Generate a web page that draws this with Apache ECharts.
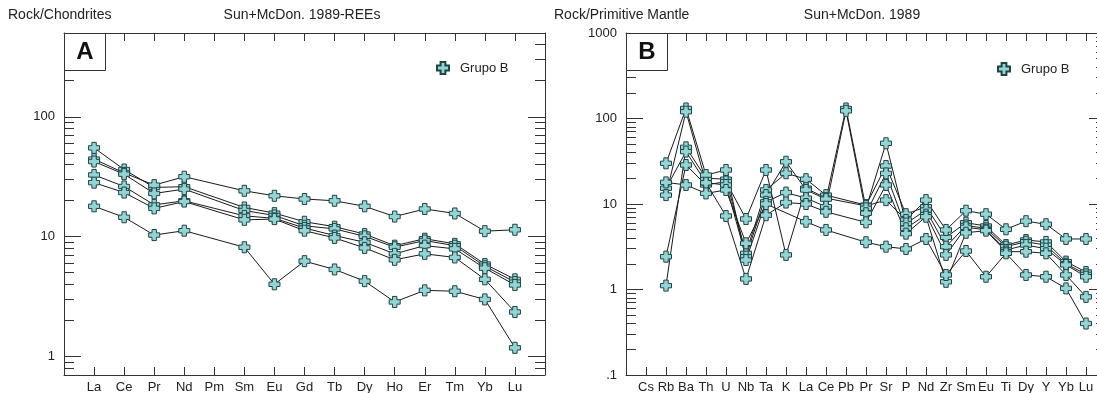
<!DOCTYPE html>
<html>
<head>
<meta charset="utf-8">
<script src="https://cdn.jsdelivr.net/npm/echarts@6/dist/echarts.min.js"></script>
<style>
html,body{margin:0;padding:0;background:#fff;}
#c{width:1097px;height:393px;}
</style>
</head>
<body>
<div id="c"></div>
<script>
// ---------- DATA ----------
const reeLabels = ['La','Ce','Pr','Nd','Pm','Sm','Eu','Gd','Tb','Dy','Ho','Er','Tm','Yb','Lu'];
const spiderLabels = ['Cs','Rb','Ba','Th','U','Nb','Ta','K','La','Ce','Pb','Pr','Sr','P','Nd','Zr','Sm','Eu','Ti','Dy','Y','Yb','Lu'];

// Panel A: Rock/Chondrites (REE)
const reeS1 = [55.0, 36.3, 25.7, 26.1, null, 17.5, 15.7, 13.3, 12.1, 10.5, 8.4, 9.6, 8.7, 5.9, 4.4];
const reeS2 = [44.3, 34.0, 26.9, 31.6, null, 24.1, 21.9, 20.6, 19.9, 17.9, 14.7, 17.0, 15.6, 11.1, 11.4];
const reeS3 = [42.3, 33.2, 22.9, 24.9, null, 16.5, 15.0, 12.3, 11.6, 10.05, 8.15, 9.27, 8.4, 5.66, 4.17];
const reeS4 = [32.7, 26.2, 18.4, 19.9, null, 14.9, 14.2, 11.8, 10.2, 8.97, 7.18, 8.41, 7.9, 5.45, 3.95];
const reeS5 = [28.2, 23.3, 17.2, 19.6, null, 13.8, 14.0, 11.2, 9.75, 8.05, 6.4, 7.18, 6.7, 4.40, 2.35];
const reeS6 = [17.9, 14.5, 10.3, 11.2, null, 8.15, 4.0, 6.24, 5.32, 4.25, 2.85, 3.56, 3.5, 2.99, 1.18];

// Panel B: Rock/Primitive Mantle (spider)
const spS1 = [null, 1.11, 46, 20.0, 19.5, 2.65, 14.6, 22.9, 19.5, 12.7, null, 9.7, 27.8, 7.6, 9.3, 4.08, 6.04, 5.53, 3.31, 3.79, 3.6, 2.12, 1.6];
const spS2 = [null, 2.42, 28.6, 16.7, 18.3, 6.68, 25.0, 2.54, 15.3, 11.7, null, 9.5, 11.1, 6.5, 11.1, 4.97, 8.35, 7.6, 5.06, 6.3, 5.8, 3.9, 3.9];
const spS3 = [null, 15.3, 41, 17.7, 16.7, 2.42, 12.7, 31.2, 14.6, 11.4, 131, 8.9, 51.3, 5.9, 8.5, 3.17, 5.6, 5.2, 3.17, 3.62, 3.3, 2.0, 1.5];
const spS4 = [null, 29.9, 131, 21.8, 25.0, 2.21, 10.6, 13.6, 11.7, 9.3, 123, 7.8, 22.8, 5.2, 7.5, 2.54, 5.33, 5.0, 2.9, 3.31, 3.0, 1.94, 1.41];
const spS5 = [null, 12.7, 120, 17.7, 7.24, 1.33, 7.4, 10.4, 10.0, 8.1, null, 6.1, 16.7, 4.5, 7.1, 1.23, 4.61, 4.88, 2.77, 2.77, 2.65, 1.48, 0.82];
const spS6 = [null, 17.9, 16.7, 13.3, 14.6, 3.47, 10.0, null, 6.2, 4.97, null, 3.57, 3.17, 2.98, 3.9, 1.48, 2.82, 1.41, 2.65, 1.48, 1.41, 1.03, 0.40];

const majorTicksA = [1, 10, 100];
const majorTicksB = [0.1, 1, 10, 100, 1000];
const seriesName = 'Grupo B';

// ---------- CHART ----------
const FONT = "'Liberation Sans', Arial, sans-serif";
const TXT = '#222';
const AX = '#333';
const plusPath = 'path://M3,0 L7,0 L7,3 L10,3 L10,7 L7,7 L7,10 L3,10 L3,7 L0,7 L0,3 L3,3 Z';

function minorTicks(lo, hi) {
  const out = [];
  for (let e = -2; e <= 3; e++) {
    for (let m = 2; m <= 9; m++) {
      const v = +(m * Math.pow(10, e)).toPrecision(6);
      if (v > lo && v < hi) out.push(v);
    }
  }
  return out;
}
const minorA = minorTicks(0.7, 500);
const minorB = minorTicks(0.1, 1000);

const padA = [' '].concat(reeLabels, ['  ']);
const padB = [' '].concat(spiderLabels, ['  ']);
const padData = arr => [null].concat(arr, [null]);

function xAxes(gridIndex, cats) {
  const n = cats.length;
  const tickInt = (i) => i > 0 && i < n - 1;
  return [
    { type: 'category', gridIndex, data: cats, boundaryGap: false, position: 'bottom',
      axisLine: { show: true, lineStyle: { color: AX, width: 1 } },
      axisTick: { show: true, inside: true, length: 8, interval: tickInt, lineStyle: { color: AX } },
      axisLabel: { show: true, interval: 0, margin: 6, color: TXT, fontSize: 13, fontFamily: FONT, hideOverlap: false },
      splitLine: { show: false } },
    { type: 'category', gridIndex, data: cats, boundaryGap: false, position: 'top',
      axisLine: { show: true, lineStyle: { color: AX, width: 1 } },
      axisTick: { show: true, inside: true, length: 8, interval: tickInt, lineStyle: { color: AX } },
      axisLabel: { show: false }, splitLine: { show: false } }
  ];
}

function yAxes(gridIndex, min, max, majors, minors) {
  const base = { type: 'log', logBase: 10, gridIndex, min, max, splitLine: { show: false } };
  const fmt = v => (Math.abs(v - 0.1) < 1e-9 ? '.1' : String(Math.round(v)));
  return [
    Object.assign({}, base, { position: 'left',
      axisLine: { show: true, lineStyle: { color: AX } },
      axisTick: { show: true, inside: true, length: 17, customValues: majors, lineStyle: { color: AX } },
      axisLabel: { show: true, customValues: majors, formatter: fmt, margin: 9, color: TXT, fontSize: 13, fontFamily: FONT } }),
    Object.assign({}, base, { position: 'left',
      axisLine: { show: false },
      axisTick: { show: true, inside: true, length: 10, customValues: minors, lineStyle: { color: AX } },
      axisLabel: { show: false } }),
    Object.assign({}, base, { position: 'right',
      axisLine: { show: true, lineStyle: { color: AX } },
      axisTick: { show: true, inside: true, length: 17, customValues: majors, lineStyle: { color: AX } },
      axisLabel: { show: false } }),
    Object.assign({}, base, { position: 'right',
      axisLine: { show: false },
      axisTick: { show: true, inside: true, length: 10, customValues: minors, lineStyle: { color: AX } },
      axisLabel: { show: false } })
  ];
}

function mkSeries(arr, xIdx, yIdx) {
  return {
    name: seriesName, type: 'line', xAxisIndex: xIdx, yAxisIndex: yIdx,
    data: padData(arr), connectNulls: true,
    symbol: plusPath, symbolSize: 11, showSymbol: true,
    lineStyle: { color: '#1a1a1a', width: 1 },
    itemStyle: { color: '#93d5d5', borderColor: '#1f4446', borderWidth: 1 },
    emphasis: { disabled: true }, animation: false, z: 3
  };
}

const seriesA = [reeS1, reeS2, reeS3, reeS4, reeS5, reeS6].map(a => mkSeries(a, 0, 0));
const seriesB = [spS1, spS2, spS3, spS4, spS5, spS6].map(a => mkSeries(a, 2, 4));

const chart = echarts.init(document.getElementById('c'), null, { renderer: 'canvas' });
const legendCommon = {
  data: [seriesName], icon: plusPath, itemWidth: 24, itemHeight: 12, selectedMode: false,
  textStyle: { color: TXT, fontSize: 13, fontFamily: FONT }, padding: 0
};
const titleStyle = { fontSize: 14, fontWeight: 'normal', color: TXT, fontFamily: FONT };
chart.setOption({
  animation: false,
  backgroundColor: '#fff',
  textStyle: { fontFamily: FONT },
  grid: [
    { left: 64, top: 33, width: 481, height: 342, show: false, containLabel: false, outerBoundsMode: 'none' },
    { left: 626, top: 33, width: 480, height: 342, show: false, containLabel: false, outerBoundsMode: 'none' }
  ],
  xAxis: xAxes(0, padA).concat(xAxes(1, padB)),
  yAxis: yAxes(0, 0.7, 500, majorTicksA, minorA).concat(yAxes(1, 0.1, 1000, majorTicksB, minorB)),
  legend: [
    Object.assign({}, legendCommon, { left: 436, top: 61 }),
    Object.assign({}, legendCommon, { left: 997, top: 62 })
  ],
  title: [
    { text: 'Rock/Chondrites', left: 8, top: 8, textStyle: titleStyle, padding: 0 },
    { text: 'Sun+McDon. 1989-REEs', left: 302, textAlign: 'center', top: 8, textStyle: titleStyle, padding: 0 },
    { text: 'Rock/Primitive Mantle', left: 554, top: 8, textStyle: titleStyle, padding: 0 },
    { text: 'Sun+McDon. 1989', left: 862, textAlign: 'center', top: 8, textStyle: titleStyle, padding: 0 }
  ],
  graphic: [
    { type: 'rect', shape: { x: 64.5, y: 33.5, width: 41, height: 37 }, style: { fill: '#fff', stroke: AX, lineWidth: 1 }, z: 10 },
    { type: 'text', x: 85, y: 52, style: { text: 'A', font: "bold 24px 'Liberation Sans', Arial", fill: '#111', textAlign: 'center', textVerticalAlign: 'middle' }, z: 11 },
    { type: 'rect', shape: { x: 626.5, y: 33.5, width: 41, height: 37 }, style: { fill: '#fff', stroke: AX, lineWidth: 1 }, z: 10 },
    { type: 'text', x: 647, y: 52, style: { text: 'B', font: "bold 24px 'Liberation Sans', Arial", fill: '#111', textAlign: 'center', textVerticalAlign: 'middle' }, z: 11 }
  ],
  series: seriesA.concat(seriesB)
});
</script>
</body>
</html>
